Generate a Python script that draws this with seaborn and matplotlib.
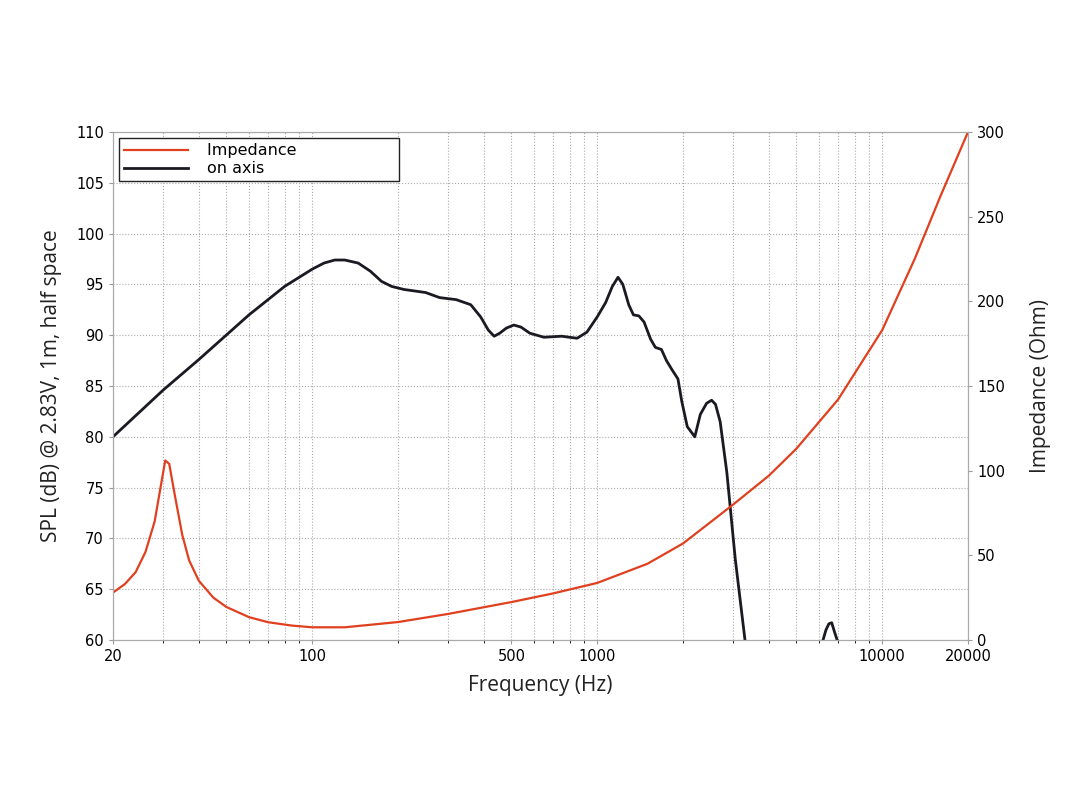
import numpy as np
import matplotlib
matplotlib.use("Agg")
import matplotlib.pyplot as plt
import seaborn as sns
from matplotlib.ticker import FixedLocator, NullFormatter, LogLocator
from matplotlib.lines import Line2D

spl_freq = [20, 30, 40, 60, 80, 100, 110, 120, 130, 145, 160, 175, 190, 210, 250, 280, 320, 360,
            390, 415, 435, 455, 480, 510, 540, 580, 650, 750, 850, 920, 1000, 1070, 1130, 1183,
            1230, 1290, 1340, 1400, 1460, 1540, 1600, 1680, 1750, 1830, 1920, 1980, 2070, 2200,
            2300, 2420, 2520, 2600, 2700, 2850, 3050, 3300]
spl_db = [80, 84.6, 87.6, 92.0, 94.8, 96.5, 97.1, 97.4, 97.4, 97.1, 96.3, 95.3, 94.8, 94.5, 94.2,
          93.7, 93.5, 93.0, 91.8, 90.5, 89.9, 90.2, 90.7, 91.0, 90.8, 90.2, 89.8, 89.9, 89.7, 90.3,
          91.8, 93.2, 94.8, 95.7, 95.0, 93.0, 92.0, 91.9, 91.3, 89.6, 88.8, 88.6, 87.5, 86.6, 85.7,
          83.5, 81.0, 80.0, 82.2, 83.3, 83.6, 83.2, 81.5, 76.5, 68.0, 60.0]
spl2_freq = [6200, 6350, 6500, 6650, 6800, 6950]
spl2_db = [60.0, 61.0, 61.6, 61.7, 60.8, 60.0]

imp_freq = [20, 22, 24, 26, 28, 29.5, 30.5, 31.5, 33, 35, 37, 40, 45, 50, 60, 70, 85, 100, 130,
            200, 300, 500, 700, 1000, 1500, 2000, 3000, 4000, 5000, 7000, 10000, 13000, 16000, 20000]
imp_ohm = [28, 33, 40, 52, 70, 92, 106, 104, 85, 62, 47, 35, 25, 19.5, 13.5, 10.5, 8.5, 7.5, 7.5,
           10.6, 15.4, 22.4, 27.5, 33.7, 45, 57, 80, 97, 113, 142, 183, 225, 262, 300]

fig = plt.figure(figsize=(10.76, 8.07), dpi=100)
ax = fig.add_axes([113/1076, 1-640/807, (968-113)/1076, (640-132)/807])
ax2 = ax.twinx()

sns.lineplot(x=spl_freq, y=spl_db, ax=ax, color="#1a1a22", lw=2, sort=False)
sns.lineplot(x=spl2_freq, y=spl2_db, ax=ax, color="#1a1a22", lw=2, sort=False)
sns.lineplot(x=imp_freq, y=imp_ohm, ax=ax2, color="#e0401f", lw=1.6, sort=False)

ax.set_xscale("log")
ax.set_xlim(20, 20000)
ax.set_ylim(60, 110)
ax2.set_ylim(0, 300)
ax.set_yticks(np.arange(60, 111, 5))
ax2.set_yticks(np.arange(0, 301, 50))
ax.xaxis.set_major_locator(FixedLocator([20, 100, 500, 1000, 10000, 20000]))
ax.set_xticklabels(["20", "100", "500", "1000", "10000", "20000"])
ax.xaxis.set_minor_locator(LogLocator(base=10, subs=np.arange(2, 10)))
ax.xaxis.set_minor_formatter(NullFormatter())
ax.grid(True, which="both", axis="x", ls=":", color="#aaa", lw=0.8)
ax.grid(True, which="major", axis="y", ls=":", color="#aaa", lw=0.8)
for a in (ax, ax2):
    a.tick_params(labelsize=10.5, length=3, color="#999")
    for s in a.spines.values():
        s.set_color("#aaa")
ax.set_xlabel("Frequency (Hz)", fontsize=15, fontfamily="Open Sans", color="#222", labelpad=8)
ax.set_ylabel("SPL (dB) @ 2.83V, 1m, half space", fontsize=15, fontfamily="Open Sans", color="#222", labelpad=10)
ax2.set_ylabel("Impedance (Ohm)", fontsize=15, fontfamily="Open Sans", color="#222", labelpad=18)

h = [Line2D([], [], color="#e0401f", lw=1.6), Line2D([], [], color="#1a1a22", lw=2)]
leg = ax.legend(h, ["Impedance", "on axis"], loc="upper left", fontsize=11.5, fancybox=False,
                edgecolor="#222", framealpha=1, borderaxespad=0.4, handlelength=4,
                borderpad=0.3, labelspacing=0.2, handletextpad=1.2)
leg.get_frame().set_linewidth(1)
leg._legend_box.align = "left"
for t in leg.get_texts():
    t.set_text(t.get_text() + "                   ")

fig.savefig("out.png", dpi=100)
